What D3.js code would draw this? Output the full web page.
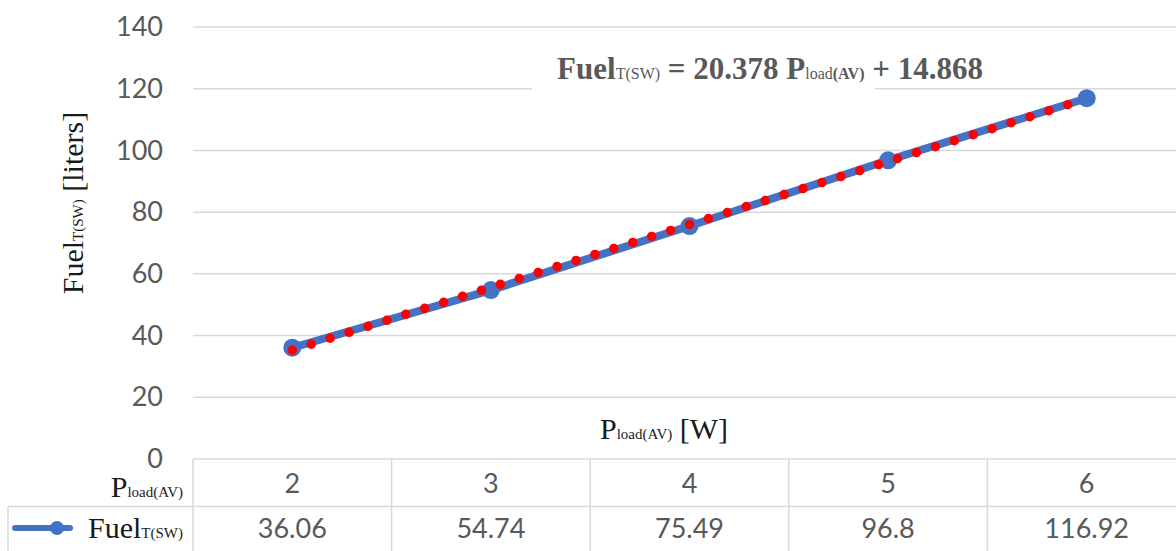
<!DOCTYPE html>
<html><head><meta charset="utf-8">
<script src="https://cdn.jsdelivr.net/npm/d3@7"></script>
<style>body{margin:0;background:#fff}svg{display:block}</style>
</head><body>
<svg id="c" width="1176" height="551"></svg>
<script>
const categories = [2, 3, 4, 5, 6];
const fuelValues = [36.06, 54.74, 75.49, 96.8, 116.92];
const yTicks = [0, 20, 40, 60, 80, 100, 120, 140];
const tableValueLabels = ["36.06", "54.74", "75.49", "96.8", "116.92"];
const trendSlope = 20.378, trendIntercept = 14.868;

const svg = d3.select("#c");
const grey = "#595959", gridC = "#d9d9d9", blue = "#4472C4", red = "#FF0000";
const serif = "'Liberation Serif','Times New Roman',serif";
const sans = "Lato,'Open Sans',sans-serif";

const x = d3.scaleBand().domain(categories).range([193, 1186]);
const y = d3.scaleLinear().domain([0, 140]).range([459, 27]);
const cx = c => x(c) + x.bandwidth() / 2;

// gridlines
svg.append("g").selectAll("line").data(yTicks.filter(t => t > 0)).join("line")
  .attr("x1", 193).attr("x2", 1176).attr("y1", d => y(d)).attr("y2", d => y(d))
  .attr("stroke", gridC).attr("stroke-width", 1.5);

// y axis labels
const yAxis = d3.axisLeft(y).tickValues(yTicks).tickSize(0).tickPadding(0);
const ga = svg.append("g").attr("transform", "translate(163,0)").call(yAxis);
ga.select(".domain").remove();
ga.selectAll("text").attr("font-family", sans).attr("font-size", 27).attr("fill", grey);

// table
const tbl = svg.append("g").attr("stroke", gridC).attr("stroke-width", 1.5);
tbl.append("line").attr("x1", 193).attr("x2", 1176).attr("y1", 459).attr("y2", 459);
tbl.append("line").attr("x1", 8).attr("x2", 1176).attr("y1", 506.5).attr("y2", 506.5);
tbl.append("line").attr("x1", 8).attr("x2", 8).attr("y1", 506.5).attr("y2", 551);
tbl.selectAll(".v").data(categories).join("line").attr("class", "v")
  .attr("x1", d => x(d)).attr("x2", d => x(d)).attr("y1", 459).attr("y2", 551);

svg.append("g").selectAll("text").data(categories).join("text")
  .attr("x", d => cx(d)).attr("y", 493).attr("text-anchor", "middle")
  .attr("font-family", sans).attr("font-size", 27).attr("fill", grey).text(d => d);
svg.append("g").selectAll("text").data(tableValueLabels).join("text")
  .attr("x", (d, i) => cx(categories[i])).attr("y", 538).attr("text-anchor", "middle")
  .attr("font-family", sans).attr("font-size", 27).attr("fill", grey).text(d => d);

// row labels
const r1 = svg.append("text").attr("x", 183).attr("y", 497).attr("text-anchor", "end")
  .attr("font-family", serif).attr("fill", "#1a1a1a");
r1.append("tspan").attr("font-size", 30).text("P");
r1.append("tspan").attr("font-size", 15).text("load(AV)");

svg.append("line").attr("x1", 15).attr("x2", 70).attr("y1", 528).attr("y2", 528)
  .attr("stroke", blue).attr("stroke-width", 6).attr("stroke-linecap", "round");
svg.append("circle").attr("cx", 57).attr("cy", 528).attr("r", 7).attr("fill", blue);
const r2 = svg.append("text").attr("x", 183).attr("y", 538).attr("text-anchor", "end")
  .attr("font-family", serif).attr("fill", "#1a1a1a");
r2.append("tspan").attr("font-size", 30).text("Fuel");
r2.append("tspan").attr("font-size", 15).text("T(SW)");

// axis titles
const xt = svg.append("text").attr("x", 664).attr("y", 439).attr("text-anchor", "middle")
  .attr("font-family", serif).attr("fill", "#1a1a1a");
xt.append("tspan").attr("font-size", 30).text("P");
xt.append("tspan").attr("font-size", 15).text("load(AV)");
xt.append("tspan").attr("font-size", 30).text(" [W]");

const yt = svg.append("text").attr("transform", "translate(83,203) rotate(-90)")
  .attr("text-anchor", "middle").attr("font-family", serif).attr("fill", "#1a1a1a");
yt.append("tspan").attr("font-size", 30).text("Fuel");
yt.append("tspan").attr("font-size", 15).text("T(SW)");
yt.append("tspan").attr("font-size", 30).text(" [liters]");

// series line
const line = d3.line().x(d => cx(d.c)).y(d => y(d.v));
const pts = categories.map((c, i) => ({c, v: fuelValues[i]}));
svg.append("path").datum(pts).attr("d", line).attr("fill", "none")
  .attr("stroke", blue).attr("stroke-width", 8).attr("stroke-linejoin", "round");
svg.append("g").selectAll("circle").data(pts).join("circle")
  .attr("cx", d => cx(d.c)).attr("cy", d => y(d.v)).attr("r", 9).attr("fill", blue);

// trendline (Excel uses category index 1..n)
const trend = categories.map((c, i) => ({c, v: trendSlope * (i + 1) + trendIntercept}));
const tp = svg.append("path").datum(trend).attr("d", line).attr("fill", "none")
  .attr("stroke", red).attr("stroke-width", 9.5).attr("stroke-linecap", "round");
const L = tp.node().getTotalLength();
const n = Math.round(L / 19.9);
tp.attr("stroke-dasharray", `0 ${L / n}`);

// equation label
svg.append("rect").attr("x", 532).attr("y", 50).attr("width", 343).attr("height", 44).attr("fill", "#fff");
const eq = svg.append("text").attr("x", 770).attr("y", 79).attr("text-anchor", "middle")
  .attr("font-family", serif).attr("font-weight", "bold").attr("fill", grey);
eq.append("tspan").attr("font-size", 31).text("Fuel");
eq.append("tspan").attr("font-size", 16).attr("font-weight", "normal").text("T(SW)");
eq.append("tspan").attr("font-size", 31).text(" = 20.378 P");
eq.append("tspan").attr("font-size", 16).attr("font-weight", "normal").text("load");
eq.append("tspan").attr("font-size", 16).text("(AV)");
eq.append("tspan").attr("font-size", 31).text(" + 14.868");
</script>
</body></html>
